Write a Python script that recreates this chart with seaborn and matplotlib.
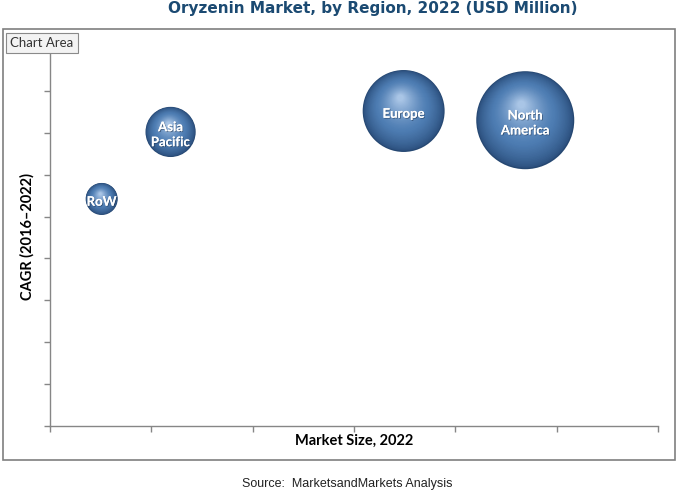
import numpy as np
import matplotlib
matplotlib.use("Agg")
import matplotlib.pyplot as plt
import matplotlib.transforms as mtransforms
import matplotlib.patheffects as pe
from matplotlib.colors import to_rgb
from matplotlib.patches import Rectangle
import pandas as pd
import seaborn as sns

# data (axis has no tick labels)
regions = ["RoW", "Asia\nPacific", "Europe", "North\nAmerica"]
market_pos = [0.51, 1.19, 3.49, 4.69]      # x position (Market Size, 2022)
cagr = [5.42, 7.02, 7.52, 7.30]            # y position (CAGR 2016-2022)
bubble_size = [55, 135, 360, 515]          # bubble area (USD Million)

df = pd.DataFrame({"region": regions, "x": market_pos, "y": cagr, "size": bubble_size})

sns.set_style("white")
plt.rcParams["font.family"] = ["Lato", "DejaVu Sans"]

fig = plt.figure(figsize=(6.79, 4.98), dpi=100)
ax = fig.add_axes([50 / 679, 72 / 498, 608 / 679, 377 / 498])

smax = 4980
sns.scatterplot(data=df, x="x", y="y", size="size", sizes=(0, smax),
                size_norm=(0, max(bubble_size)), color="#264872",
                edgecolor="none", legend=False, ax=ax, zorder=3)

# fake sphere shading: stacked lighter circles shifted up-left
dark = np.array(to_rgb("#284b78"))
mid = np.array(to_rgb("#4e7db3"))
light = np.array(to_rgb("#a9c5e6"))
n = 40
txt_tr = mtransforms.offset_copy(ax.transData, fig=fig, x=0, y=-2, units="points")
for _, row in df.iterrows():
    s0 = smax * row["size"] / max(bubble_size)
    r0 = np.sqrt(s0) / 2
    for i in range(1, n):
        t = i / (n - 1)
        f = 1 - 0.92 * t
        if t < 0.4:
            c = dark + (mid - dark) * (t / 0.4) ** 0.7
        else:
            c = mid + (light - mid) * ((t - 0.4) / 0.6) ** 1.3
        tr = mtransforms.offset_copy(ax.transData, fig=fig,
                                     x=-0.08 * r0 * t, y=0.32 * r0 * t, units="points")
        ax.scatter([row["x"]], [row["y"]], s=s0 * f ** 2, color=c,
                   edgecolor="none", transform=tr, zorder=3 + i * 0.01)
    ax.text(row["x"], row["y"], row["region"], color="white", fontsize=9.5,
            fontweight="bold", ha="center", va="center", zorder=5, linespacing=1.3,
            transform=txt_tr,
            path_effects=[pe.withSimplePatchShadow(offset=(0.6, -0.6), shadow_rgbFace="#1a2f4a",
                                                   alpha=0.6), pe.Normal()])

ax.set_xlim(0, 6)
ax.set_ylim(0, 9)
ax.set_xticks(range(7))
ax.set_yticks(range(10))
ax.set_xticklabels([])
ax.set_yticklabels([])
ax.tick_params(axis="both", direction="out", length=4, width=1, color="#868686",
               bottom=True, left=True)
for side in ["top", "right"]:
    ax.spines[side].set_visible(False)
for side in ["left", "bottom"]:
    ax.spines[side].set_color("#868686")
    ax.spines[side].set_linewidth(1)
ax.set_xlabel("")
ax.set_ylabel("")

fig.text(354 / 679, 1 - 441 / 498, "Market Size, 2022", ha="center", va="center",
         fontsize=10.5, fontweight="bold", color="black")
fig.text(27 / 679, 1 - 237 / 498, "CAGR (2016\u20132022)", ha="center", va="center",
         fontsize=10.5, fontweight="bold", rotation=90, color="black")

# outer chart area border
fig.patches.append(Rectangle((3 / 679, 38 / 498), 672 / 679, 431 / 498,
                             transform=fig.transFigure, fill=False,
                             edgecolor="#7f7f7f", linewidth=1.2))

fig.text(373 / 679, 1 - 9 / 498, "Oryzenin Market, by Region, 2022 (USD Million)",
         ha="center", va="center", fontsize=11, fontweight="bold", color="#1b4a72",
         family=["DejaVu Sans"])
fig.text(42 / 679, 1 - 43 / 498, "Chart Area", ha="center", va="center", fontsize=9.5,
         color="#333333",
         bbox=dict(boxstyle="square,pad=0.3", facecolor="#f3f3f3", edgecolor="#8a8a8a",
                   linewidth=0.8))
fig.text(347 / 679, 1 - 484 / 498, "Source:  MarketsandMarkets Analysis", ha="center",
         va="center", fontsize=9, color="#222222", family=["Liberation Sans"])

fig.savefig("out.png", dpi=100)
